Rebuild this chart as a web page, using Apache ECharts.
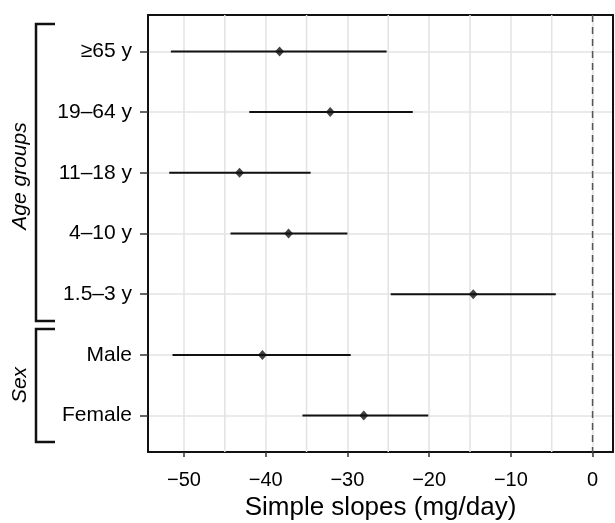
<!DOCTYPE html>
<html>
<head>
<meta charset="utf-8">
<title>Simple slopes</title>
<script src="https://cdn.jsdelivr.net/npm/echarts@6/dist/echarts.min.js"></script>
<style>
html, body { margin: 0; padding: 0; background: #fff; }
#chart { width: 615px; height: 523px; }
</style>
</head>
<body>
<div id="chart"></div>
<script>
// rows, top to bottom
var categories = ['≥65 y', '19–64 y', '11–18 y', '4–10 y', '1.5–3 y', 'Male', 'Female'];
var estimates = [-38.3, -32.1, -43.2, -37.2, -14.6, -40.4, -28.0];
var lower = [-51.6, -42.0, -51.8, -44.3, -24.7, -51.4, -35.5];
var upper = [-25.2, -22.0, -34.5, -30.0, -4.5, -29.6, -20.1];
var xTicks = [-50, -40, -30, -20, -10, 0];
var minorGrid = [-45, -35, -25, -15, -5];
var refLine = 0;

var xMin = -54.4, xMax = 2.5;
var yMin = 0.4, yMax = 7.6;
var yTicks = categories.map(function (c, i) { return i + 1; });
var fontName = 'Liberation Sans, Arial, sans-serif';

function showSlopes(divId) {
	var chart = echarts.init(document.getElementById(divId));
	var option = genSlopesOption();
	chart.setOption(option, true);
}

// plain frame axis (top / right) only used for the panel border
function frameAxis(pos, min, max) {
	return {
		type: 'value',
		position: pos,
		min: min,
		max: max,
		axisLine: { show: true, onZero: false, lineStyle: { color: '#111', width: 2 } },
		axisTick: { show: false },
		axisLabel: { show: false },
		splitLine: { show: false }
	};
}

function genSlopesOption() {
	var barData = lower.map(function (v, i) { return [v, upper[i], i + 1]; });
	var pointData = estimates.map(function (v, i) { return [v, i + 1]; });
	var guideData = minorGrid.map(function (v) { return [v, 0]; });
	guideData.push([refLine, 1]);

	var option = {
		animation: false,
		backgroundColor: '#fff',
		grid: {
			left: 148,
			right: 2,
			top: 15,
			bottom: 71,
			containLabel: false,
			outerBoundsMode: 'none'
		},
		xAxis: [{
			type: 'value',
			position: 'bottom',
			min: xMin,
			max: xMax,
			axisLine: { show: true, onZero: false, lineStyle: { color: '#111', width: 2 } },
			axisTick: { show: true, length: 5, customValues: xTicks, lineStyle: { color: '#333', width: 1.5 } },
			axisLabel: {
				margin: 18,
				color: '#000',
				fontSize: 20,
				fontFamily: fontName,
				customValues: xTicks,
				formatter: function (v) {
					return v < 0 ? '−' + Math.abs(v) : String(v);
				}
			},
			splitLine: { show: true, lineStyle: { color: '#e3e3e3', width: 1.5 } },
			name: 'Simple slopes (mg/day)',
			nameLocation: 'middle',
			nameGap: 41,
			nameTextStyle: { color: '#000', fontSize: 26, fontFamily: fontName }
		}, frameAxis('top', xMin, xMax)],
		yAxis: [{
			type: 'value',
			position: 'left',
			min: yMin,
			max: yMax,
			splitNumber: 7,
			inverse: true,
			axisLine: { show: true, onZero: false, lineStyle: { color: '#111', width: 2 } },
			axisTick: { show: true, length: 8, customValues: yTicks, lineStyle: { color: '#333', width: 1.5 } },
			axisLabel: {
				margin: 16,
				color: '#000',
				fontSize: 21,
				fontFamily: fontName,
				customValues: yTicks,
				formatter: function (v) {
					return categories[Math.round(v) - 1] || '';
				}
			},
			splitLine: { show: true, lineStyle: { color: '#e3e3e3', width: 1.5 } }
		}, frameAxis('right', yMin, yMax)],
		graphic: [
			{
				type: 'polyline',
				shape: { points: [[55, 24], [36, 24], [36, 321], [55, 321]] },
				style: { stroke: '#111', lineWidth: 2.5, fill: null }
			},
			{
				type: 'polyline',
				shape: { points: [[55, 329], [36, 329], [36, 442], [55, 442]] },
				style: { stroke: '#111', lineWidth: 2.5, fill: null }
			},
			{
				type: 'text',
				x: 20,
				y: 176,
				rotation: Math.PI / 2,
				style: {
					text: 'Age groups',
					fontSize: 21,
					fontStyle: 'italic',
					fontFamily: fontName,
					fill: '#000',
					align: 'center',
					verticalAlign: 'middle'
				}
			},
			{
				type: 'text',
				x: 20,
				y: 385,
				rotation: Math.PI / 2,
				style: {
					text: 'Sex',
					fontSize: 21,
					fontStyle: 'italic',
					fontFamily: fontName,
					fill: '#000',
					align: 'center',
					verticalAlign: 'middle'
				}
			}
		],
		series: [
			{
				// minor vertical grid lines and the dashed zero line
				name: 'guides',
				type: 'custom',
				z: 1,
				silent: true,
				encode: { x: 0 },
				renderItem: function (params, api) {
					var x = api.value(0);
					var p1 = api.coord([x, yMin]);
					var p2 = api.coord([x, yMax]);
					var isRef = api.value(1) === 1;
					return {
						type: 'line',
						shape: { x1: p1[0], y1: p1[1], x2: p2[0], y2: p2[1] },
						style: isRef
							? { stroke: '#555', lineWidth: 1.5, lineDash: [7, 5] }
							: { stroke: '#e3e3e3', lineWidth: 1.5 }
					};
				},
				data: guideData
			},
			{
				name: 'interval',
				type: 'custom',
				z: 3,
				encode: { x: [0, 1], y: 2 },
				renderItem: function (params, api) {
					var y = api.value(2);
					var p1 = api.coord([api.value(0), y]);
					var p2 = api.coord([api.value(1), y]);
					return {
						type: 'line',
						shape: { x1: p1[0], y1: p1[1], x2: p2[0], y2: p2[1] },
						style: { stroke: '#111', lineWidth: 2 }
					};
				},
				data: barData
			},
			{
				name: 'slope',
				type: 'scatter',
				z: 4,
				symbol: 'diamond',
				symbolSize: [9, 10],
				itemStyle: { color: '#111' },
				data: pointData
			}
		]
	};

	return option;
}

showSlopes('chart');
</script>
</body>
</html>
